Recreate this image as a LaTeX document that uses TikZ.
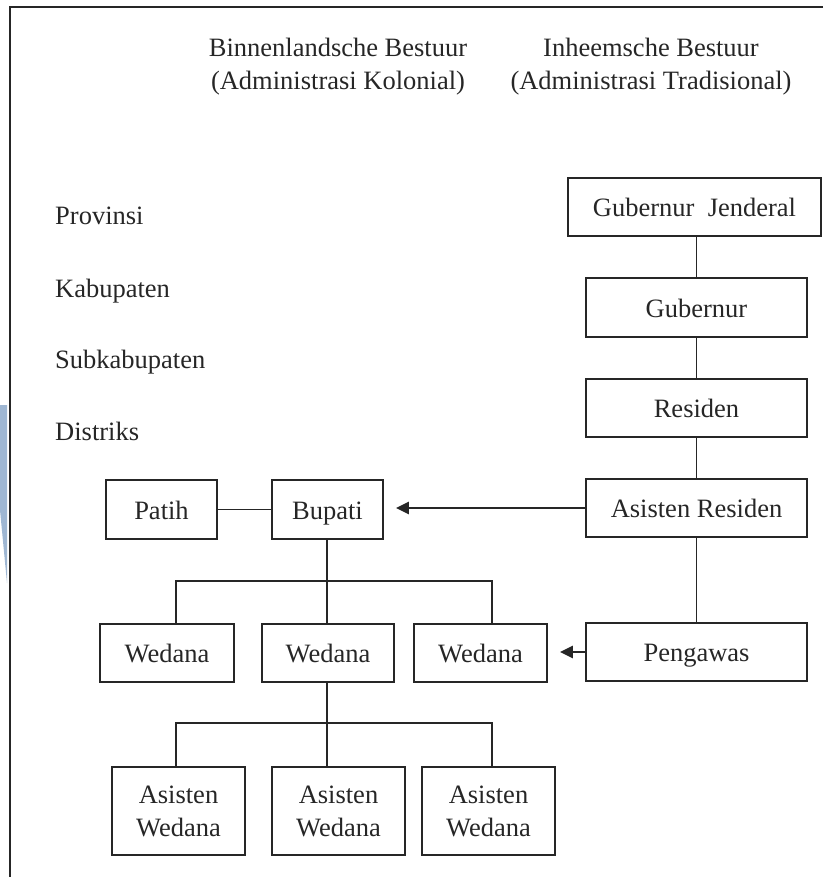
\documentclass[tikz,border=0pt]{standalone}
\usepackage{fontspec}
\setmainfont{Liberation Serif}
\usetikzlibrary{arrows.meta}
\definecolor{ink}{HTML}{262626}
\definecolor{wmblue}{HTML}{9FB7D3}
\begin{document}
\begin{tikzpicture}[x=1pt,y=-1pt,
  every node/.style={text=ink,font=\fontsize{26.5}{33}\selectfont},
  box/.style={draw=ink,line width=1.9pt,inner sep=0pt,minimum width=#1,align=center},
  box/.default=221pt,
  one/.style={text height=25pt,text depth=6pt},
  conn/.style={draw=ink,line width=1.8pt},
  arr/.style={draw=ink,line width=2.8pt,-{Triangle[length=13pt,width=12pt]},shorten >=12pt},
  lvl/.style={anchor=base west,inner sep=0pt}]
\useasboundingbox (0,0) rectangle (823,877);
% watermark sliver and frame
\fill[wmblue] (0,405) -- (7,405) -- (7,583) -- (0,510) -- cycle;
\draw[ink,line width=2.4pt] (823,7) -- (10,7) -- (10,877);
% headers
\node[align=center] (hkol) at (338,67) {Binnenlandsche Bestuur\\(Administrasi Kolonial)};
\node[align=center] (htrad) at (651,67) {Inheemsche Bestuur\\(Administrasi Tradisional)};
% level labels
\node[lvl] (lprov) at (55,225) {Provinsi};
\node[lvl] (lkab) at (55,297) {Kabupaten};
\node[lvl] (lsub) at (55,368) {Subkabupaten};
\node[lvl] (ldis) at (55,440) {Distriks};
% right column
\node[box=253pt,one,minimum height=58pt] (gj) at (694.5,207) {Gubernur\hspace{0.5em}Jenderal};
\node[box,one,minimum height=59pt] (gub) at (696.5,307.5) {Gubernur};
\node[box,one,minimum height=58pt] (res) at (696.5,408) {Residen};
\node[box,one,minimum height=58pt] (ar) at (696.5,508) {Asisten Residen};
\node[box,one,minimum height=58pt] (peng) at (696.5,652) {Pengawas};
% left part
\node[box=111pt,one,minimum height=59pt] (patih) at (161.5,509.5) {Patih};
\node[box=111pt,one,minimum height=59pt] (bupati) at (327.5,509.5) {Bupati};
\node[box=134pt,one,minimum height=58pt] (w1) at (167,653) {Wedana};
\node[box=132pt,one,minimum height=58pt] (w2) at (328,653) {Wedana};
\node[box=133pt,one,minimum height=58pt] (w3) at (480.5,653) {Wedana};
\node[box=133pt,minimum height=88pt] (aw1) at (178.5,811) {Asisten\\Wedana};
\node[box=133pt,minimum height=88pt] (aw2) at (338.5,811) {Asisten\\Wedana};
\node[box=133pt,minimum height=88pt] (aw3) at (488.5,811) {Asisten\\Wedana};
% right column connectors
\draw[conn] (gub.north) -- (gub.north |- gj.south);
\draw[conn] (gub.south) -- (res.north);
\draw[conn] (res.south) -- (ar.north);
\draw[conn] (ar.south) -- (peng.north);
% patih - bupati
\draw[conn] (patih.east) -- (bupati.west);
% bupati tree
\coordinate (b1) at (327,581);
\draw[conn] (bupati.south -| b1) -- (b1);
\draw[conn] (176,624) |- (b1) -| (492,624);
\draw[conn] (b1) -- (b1 |- w2.north);
\coordinate (b2) at (327,723);
\draw[conn] (w2.south -| b2) -- (b2);
\draw[conn] (176,767) |- (b2) -| (492,767);
\draw[conn] (b2) -- (b2 |- aw2.north);
% arrows
\draw[arr] (ar.west) -- (bupati.east |- ar.west);
\draw[arr] (peng.west) -- (w3.east |- peng.west);
\end{tikzpicture}
\end{document}
